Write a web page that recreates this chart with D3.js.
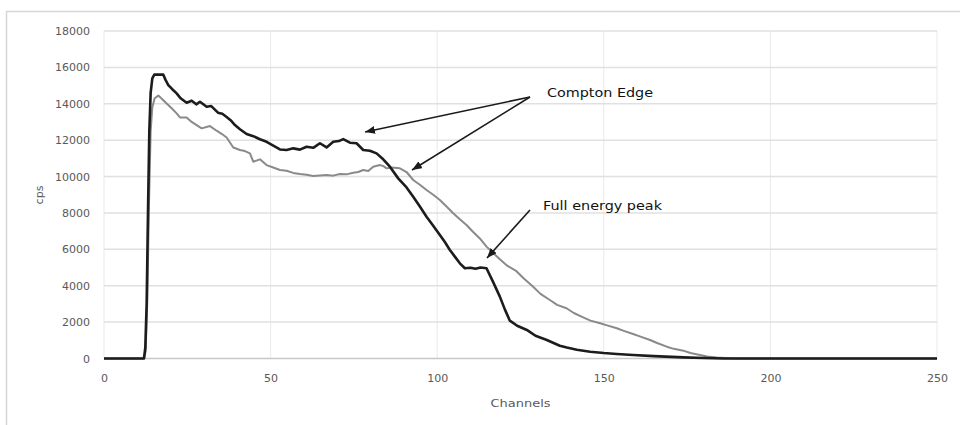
<!DOCTYPE html>
<html>
<head>
<meta charset="utf-8">
<script src="https://cdn.jsdelivr.net/npm/d3@7"></script>
<style>
  html, body { margin: 0; padding: 0; background: #fff; }
  svg { display: block; }
  text { font-family: "DejaVu Sans", sans-serif; }
</style>
</head>
<body>
<svg id="chart" width="960" height="425"></svg>
<script>
// Spectrum A (dark trace): channel and count rate (cps)
const darkChannels = [0, 12, 12.4, 12.8, 13.2, 13.6, 14.0, 14.5, 15.1, 17.8, 18.5, 19.3, 20.5, 21.8, 23, 24.8,
  26.3, 27.7, 28.8, 30.8, 32.2, 34.2, 35.5, 36.7, 38, 39.3, 40.8, 42.8, 44.8, 46.8, 48.8, 50.8, 52.8, 54.8,
  56.8, 58.8, 60.8, 62.8, 64.8, 66.8, 68.8, 70.5, 71.8, 73.8, 75.8, 77.8, 79.8, 81.8, 83.8, 85.8, 88.3, 90.8,
  92.8, 94.8, 96.8, 98.8, 100.8, 102.3, 103.8, 105.3, 106.8, 108.3, 110, 111.5, 113, 114.8, 116.8, 118.8,
  120.3, 121.8, 124, 126.9, 129.5, 132.9, 136.8, 138.9, 141.9, 145.9, 150, 153.9, 158.8, 165, 173.9, 180, 186, 250];
const darkCps = [0, 0, 600, 3000, 8000, 12500, 14600, 15400, 15600, 15600, 15300, 15030, 14800, 14570, 14300, 14060,
  14170, 13970, 14110, 13840, 13875, 13510, 13450, 13290, 13100, 12830, 12600, 12340, 12220, 12050, 11910, 11700, 11490, 11460,
  11550, 11480, 11640, 11580, 11830, 11600, 11910, 11950, 12060, 11860, 11830, 11460, 11420, 11275, 10950, 10540, 9900, 9400,
  8890, 8350, 7790, 7300, 6790, 6400, 5960, 5600, 5230, 4960, 4990, 4930, 5000, 4960, 4200, 3400,
  2700, 2080, 1800, 1570, 1250, 1020, 700, 600, 480, 375, 300, 250, 190, 130, 60, 25, 0, 0];

// Spectrum B (grey trace)
const greyChannels = [0, 12, 12.5, 13, 13.5, 14, 14.5, 15.2, 16.3, 17.5, 18.8, 20.3, 21.8, 22.8, 24.8, 26.3, 27.8,
  29.3, 31.8, 33.8, 35.3, 36.8, 38.8, 40.8, 42.3, 43.8, 44.8, 46.8, 48.8, 50.8, 52.8, 54.8, 56.8, 58.8, 60.8,
  62.8, 64.8, 66.8, 68.8, 70.8, 72.8, 74.8, 76.3, 77.8, 79.3, 80.8, 82.8, 83.8, 84.8, 86.3, 88.8, 90.8, 92.8,
  94.8, 96.8, 98.8, 100.8, 102.8, 104.8, 106.8, 108.8, 110.8, 112.8, 114.8, 116.8, 118.8, 121, 123.8, 126,
  128.8, 131, 133.8, 136, 138.8, 141, 143.8, 146, 148.9, 151, 153.9, 156, 158.8, 161, 163.9, 166, 168.9, 171,
  173.9, 176, 178.9, 181, 183.9, 188, 192, 250];
const greyCps = [0, 0, 400, 3200, 8500, 12500, 13800, 14300, 14450, 14250, 14020, 13750, 13470, 13250, 13250, 13000, 12830,
  12650, 12775, 12520, 12350, 12150, 11600, 11460, 11400, 11275, 10815, 10945, 10630, 10500, 10360, 10320, 10200, 10140, 10100,
  10030, 10060, 10080, 10050, 10140, 10120, 10210, 10250, 10360, 10300, 10540, 10630, 10580, 10450, 10500, 10450, 10250, 9810,
  9550, 9260, 9000, 8710, 8350, 7980, 7650, 7340, 6950, 6600, 6150, 5800, 5450, 5100, 4800, 4400,
  3945, 3550, 3215, 2950, 2760, 2500, 2265, 2080, 1935, 1820, 1660, 1520, 1345, 1200, 1015, 850, 650, 530,
  430, 300, 190, 110, 50, 10, 0, 0];

// Axis ticks
const xTicks = [0, 50, 100, 150, 200, 250];
const yTicks = [0, 2000, 4000, 6000, 8000, 10000, 12000, 14000, 16000, 18000];

const svg = d3.select("#chart");
const margin = { left: 104, right: 23, top: 31, bottom: 66.5 };
const W = 960, H = 425;

const x = d3.scaleLinear().domain([0, 250]).range([margin.left, W - margin.right]);
const y = d3.scaleLinear().domain([0, 18000]).range([H - margin.bottom, margin.top]);

// outer frame
svg.append("rect")
  .attr("x", 6.5).attr("y", 11.5)
  .attr("width", 970).attr("height", 430)
  .attr("fill", "none").attr("stroke", "#d6d6d6").attr("stroke-width", 1.5);

// gridlines
svg.append("g").selectAll("line.v").data(xTicks).join("line")
  .attr("x1", d => x(d)).attr("x2", d => x(d))
  .attr("y1", y(18000)).attr("y2", y(0))
  .attr("stroke", "#e9e9e9").attr("stroke-width", 1);
svg.append("g").selectAll("line.h").data(yTicks).join("line")
  .attr("x1", x(0)).attr("x2", x(250))
  .attr("y1", d => y(d)).attr("y2", d => y(d))
  .attr("stroke", d => d === 0 ? "#c8c8c8" : "#e0e0e0").attr("stroke-width", 1.5);

// axes (labels only)
const yAxis = svg.append("g")
  .attr("transform", `translate(${x(0) - 14},0)`)
  .call(d3.axisLeft(y).tickValues(yTicks).tickSize(0).tickPadding(0).tickFormat(d3.format("d")));
yAxis.select(".domain").remove();
yAxis.selectAll("text").attr("font-size", 11).attr("fill", "#595959").attr("font-family", "DejaVu Sans");

const xAxis = svg.append("g")
  .attr("transform", `translate(0,${y(0) + 10})`)
  .call(d3.axisBottom(x).tickValues(xTicks).tickSize(0).tickPadding(6).tickFormat(d3.format("d")));
xAxis.select(".domain").remove();
xAxis.selectAll("text").attr("font-size", 11).attr("fill", "#595959").attr("font-family", "DejaVu Sans");

// axis titles
svg.append("text")
  .attr("x", (x(0) + x(250)) / 2).attr("y", 407)
  .attr("text-anchor", "middle").attr("font-size", 11).attr("fill", "#595959")
  .attr("textLength", 60).attr("lengthAdjust", "spacingAndGlyphs")
  .text("Channels");
svg.append("text")
  .attr("transform", "translate(43,195) rotate(-90)")
  .attr("text-anchor", "middle").attr("font-size", 11).attr("fill", "#595959")
  .text("cps");

// traces
const line = d3.line().x(d => x(d[0])).y(d => y(d[1]));
const greyPts = d3.zip(greyChannels, greyCps);
const darkPts = d3.zip(darkChannels, darkCps);

svg.append("path").datum(greyPts)
  .attr("d", line).attr("fill", "none")
  .attr("stroke", "#8a8a8a").attr("stroke-width", 2).attr("stroke-linejoin", "round");
svg.append("path").datum(darkPts)
  .attr("d", line).attr("fill", "none")
  .attr("stroke", "#1c1c1c").attr("stroke-width", 2.6).attr("stroke-linejoin", "round");

// annotations
const defs = svg.append("defs");
defs.append("marker")
  .attr("id", "head").attr("viewBox", "0 0 10 8")
  .attr("refX", 10).attr("refY", 4)
  .attr("markerWidth", 10).attr("markerHeight", 8)
  .attr("markerUnits", "userSpaceOnUse").attr("orient", "auto")
  .append("path").attr("d", "M0,0 L10,4 L0,8 Z").attr("fill", "#1a1a1a");

const arrows = [
  [530, 97, 365, 132],
  [530, 97, 412, 170],
  [530, 210, 487, 258]
];
svg.append("g").selectAll("line").data(arrows).join("line")
  .attr("x1", d => d[0]).attr("y1", d => d[1])
  .attr("x2", d => d[2]).attr("y2", d => d[3])
  .attr("stroke", "#1a1a1a").attr("stroke-width", 1.6)
  .attr("marker-end", "url(#head)");

svg.append("text")
  .attr("x", 547).attr("y", 97)
  .attr("font-size", 13).attr("fill", "#111")
  .attr("font-weight", 500)
  .attr("font-family", "Open Sans, sans-serif")
  .attr("textLength", 106).attr("lengthAdjust", "spacingAndGlyphs")
  .text("Compton Edge");
svg.append("text")
  .attr("x", 543).attr("y", 209.5)
  .attr("font-size", 13).attr("fill", "#111")
  .attr("font-weight", 500)
  .attr("font-family", "Open Sans, sans-serif")
  .attr("textLength", 119).attr("lengthAdjust", "spacingAndGlyphs")
  .text("Full energy peak");
</script>
</body>
</html>
